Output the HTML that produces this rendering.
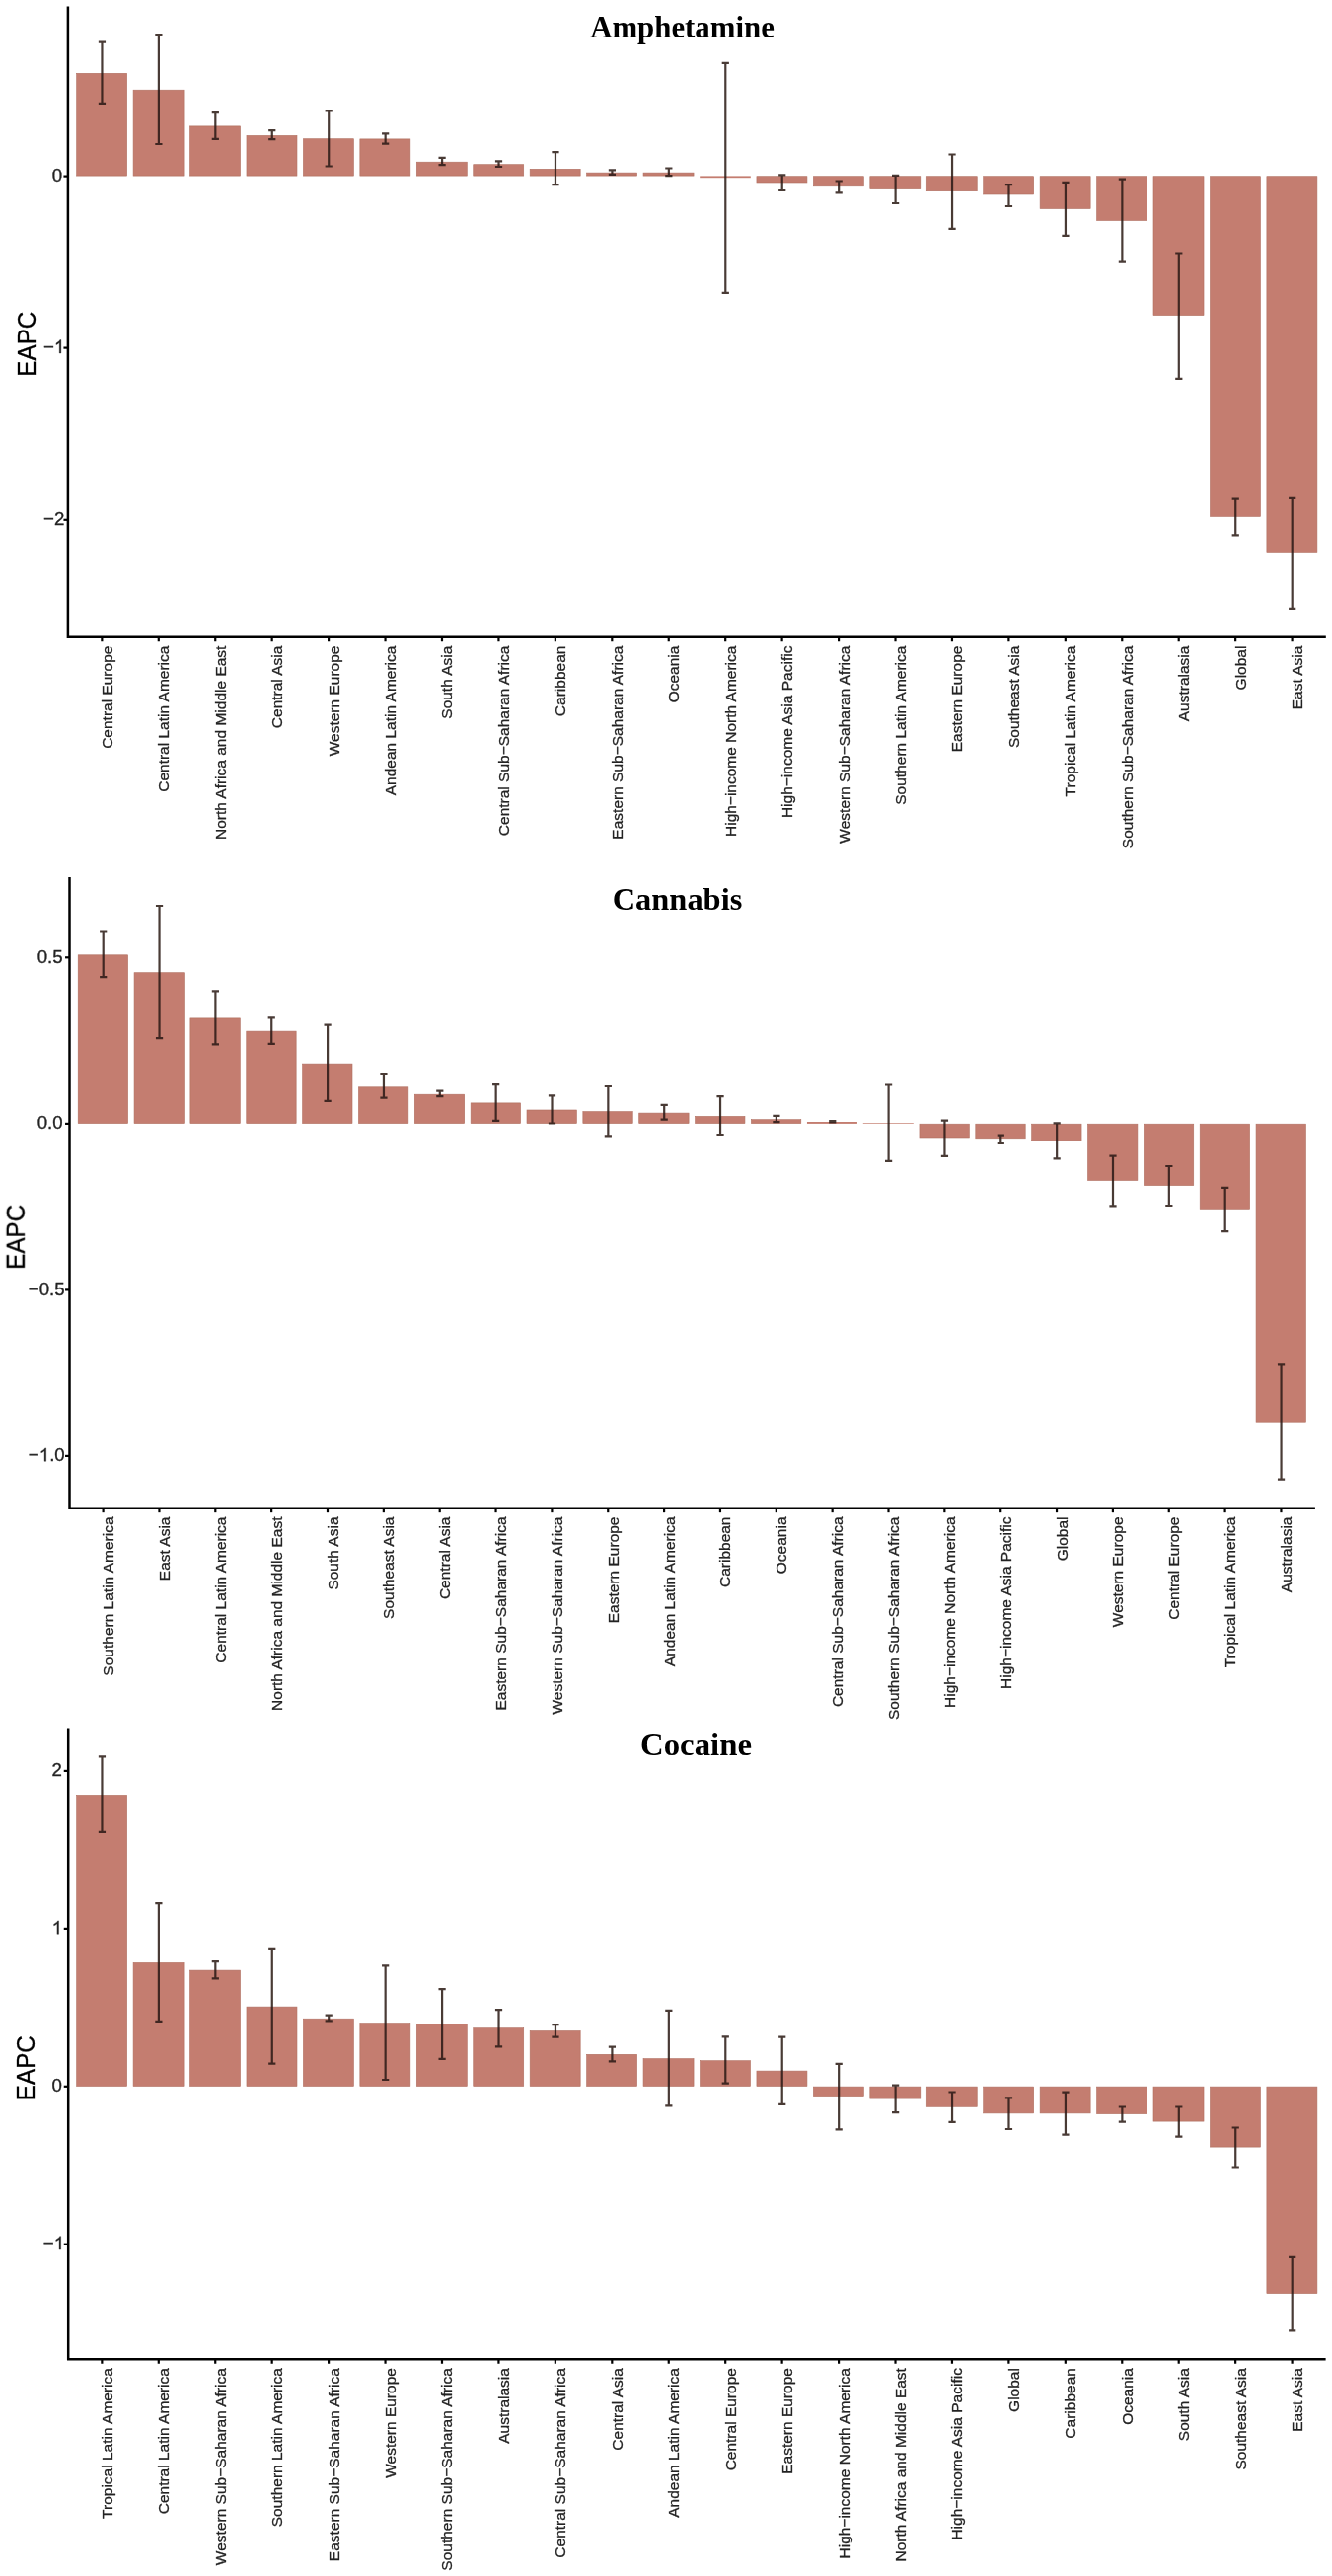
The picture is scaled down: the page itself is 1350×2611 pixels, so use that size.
<!DOCTYPE html>
<html><head><meta charset="utf-8"><title>EAPC</title>
<style>
html,body{margin:0;padding:0;background:#fff}
body{width:1350px;height:2611px;overflow:hidden}
svg{display:block}
text{font-family:"Liberation Sans",sans-serif}
.ti{font-family:"Liberation Serif",serif;font-weight:bold;font-size:32px;fill:#000}
.xl{font-size:15.5px;fill:#242424;stroke:#242424;stroke-width:.3px}
.yt{font-size:18.67px;fill:#242424;stroke:#242424;stroke-width:.35px}
.at{font-size:26.67px;fill:#000;stroke:#000;stroke-width:.3px}
</style></head>
<body>
<svg width="1350" height="2611" viewBox="0 0 1350 2611">
<defs><filter id="soft" x="0" y="0" width="1350" height="2611" filterUnits="userSpaceOnUse"><feGaussianBlur stdDeviation="0.5"/></filter></defs>
<rect width="1350" height="2611" fill="#fff"/>
<g filter="url(#soft)">
<rect width="1350" height="2611" fill="#fff"/>
<g>
<rect x="77.65" y="74.30" width="51.00" height="103.80" fill="#c47d6f" stroke="#b06f61" stroke-width="0.6"/>
<rect x="135.09" y="91.20" width="51.00" height="86.90" fill="#c47d6f" stroke="#b06f61" stroke-width="0.6"/>
<rect x="192.53" y="127.90" width="51.00" height="50.20" fill="#c47d6f" stroke="#b06f61" stroke-width="0.6"/>
<rect x="249.97" y="137.40" width="51.00" height="40.70" fill="#c47d6f" stroke="#b06f61" stroke-width="0.6"/>
<rect x="307.41" y="140.70" width="51.00" height="37.40" fill="#c47d6f" stroke="#b06f61" stroke-width="0.6"/>
<rect x="364.85" y="140.90" width="51.00" height="37.20" fill="#c47d6f" stroke="#b06f61" stroke-width="0.6"/>
<rect x="422.29" y="164.20" width="51.00" height="13.90" fill="#c47d6f" stroke="#b06f61" stroke-width="0.6"/>
<rect x="479.73" y="166.70" width="51.00" height="11.40" fill="#c47d6f" stroke="#b06f61" stroke-width="0.6"/>
<rect x="537.17" y="171.30" width="51.00" height="6.80" fill="#c47d6f" stroke="#b06f61" stroke-width="0.6"/>
<rect x="594.61" y="175.10" width="51.00" height="3.00" fill="#c47d6f" stroke="#b06f61" stroke-width="0.6"/>
<rect x="652.05" y="175.10" width="51.00" height="3.00" fill="#c47d6f" stroke="#b06f61" stroke-width="0.6"/>
<rect x="709.19" y="178.40" width="51.60" height="1.80" fill="#c47d6f"/>
<rect x="766.93" y="178.70" width="51.00" height="6.30" fill="#c47d6f" stroke="#b06f61" stroke-width="0.6"/>
<rect x="824.37" y="178.70" width="51.00" height="10.10" fill="#c47d6f" stroke="#b06f61" stroke-width="0.6"/>
<rect x="881.81" y="178.70" width="51.00" height="12.90" fill="#c47d6f" stroke="#b06f61" stroke-width="0.6"/>
<rect x="939.25" y="178.70" width="51.00" height="15.00" fill="#c47d6f" stroke="#b06f61" stroke-width="0.6"/>
<rect x="996.69" y="178.70" width="51.00" height="18.30" fill="#c47d6f" stroke="#b06f61" stroke-width="0.6"/>
<rect x="1054.13" y="178.70" width="51.00" height="32.80" fill="#c47d6f" stroke="#b06f61" stroke-width="0.6"/>
<rect x="1111.57" y="178.70" width="51.00" height="44.80" fill="#c47d6f" stroke="#b06f61" stroke-width="0.6"/>
<rect x="1169.01" y="178.70" width="51.00" height="140.90" fill="#c47d6f" stroke="#b06f61" stroke-width="0.6"/>
<rect x="1226.45" y="178.70" width="51.00" height="344.70" fill="#c47d6f" stroke="#b06f61" stroke-width="0.6"/>
<rect x="1283.89" y="178.70" width="51.00" height="381.70" fill="#c47d6f" stroke="#b06f61" stroke-width="0.6"/>
<path d="M103.45 42.60V104.90M99.85 42.60H107.05M99.85 104.90H107.05" stroke="#2a1a15" stroke-opacity="0.86" stroke-width="2.2" fill="none"/>
<path d="M160.89 35.00V146.00M157.29 35.00H164.49M157.29 146.00H164.49" stroke="#2a1a15" stroke-opacity="0.86" stroke-width="2.2" fill="none"/>
<path d="M218.33 114.10V140.90M214.73 114.10H221.93M214.73 140.90H221.93" stroke="#2a1a15" stroke-opacity="0.86" stroke-width="2.2" fill="none"/>
<path d="M275.77 132.20V141.10M272.17 132.20H279.37M272.17 141.10H279.37" stroke="#2a1a15" stroke-opacity="0.86" stroke-width="2.2" fill="none"/>
<path d="M333.21 112.30V168.50M329.61 112.30H336.81M329.61 168.50H336.81" stroke="#2a1a15" stroke-opacity="0.86" stroke-width="2.2" fill="none"/>
<path d="M390.65 135.30V145.70M387.05 135.30H394.25M387.05 145.70H394.25" stroke="#2a1a15" stroke-opacity="0.86" stroke-width="2.2" fill="none"/>
<path d="M448.09 159.80V167.20M444.49 159.80H451.69M444.49 167.20H451.69" stroke="#2a1a15" stroke-opacity="0.86" stroke-width="2.2" fill="none"/>
<path d="M505.53 163.30V169.00M501.93 163.30H509.13M501.93 169.00H509.13" stroke="#2a1a15" stroke-opacity="0.86" stroke-width="2.2" fill="none"/>
<path d="M562.97 154.20V187.10M559.37 154.20H566.57M559.37 187.10H566.57" stroke="#2a1a15" stroke-opacity="0.86" stroke-width="2.2" fill="none"/>
<path d="M620.41 172.30V176.90M616.81 172.30H624.01M616.81 176.90H624.01" stroke="#2a1a15" stroke-opacity="0.86" stroke-width="2.2" fill="none"/>
<path d="M677.85 170.50V178.20M674.25 170.50H681.45M674.25 178.20H681.45" stroke="#2a1a15" stroke-opacity="0.86" stroke-width="2.2" fill="none"/>
<path d="M735.29 63.80V296.80M731.69 63.80H738.89M731.69 296.80H738.89" stroke="#2a1a15" stroke-opacity="0.86" stroke-width="2.2" fill="none"/>
<path d="M792.73 177.40V193.00M789.13 177.40H796.33M789.13 193.00H796.33" stroke="#2a1a15" stroke-opacity="0.86" stroke-width="2.2" fill="none"/>
<path d="M850.17 183.50V195.30M846.57 183.50H853.77M846.57 195.30H853.77" stroke="#2a1a15" stroke-opacity="0.86" stroke-width="2.2" fill="none"/>
<path d="M907.61 177.90V206.00M904.01 177.90H911.21M904.01 206.00H911.21" stroke="#2a1a15" stroke-opacity="0.86" stroke-width="2.2" fill="none"/>
<path d="M965.05 156.50V231.80M961.45 156.50H968.65M961.45 231.80H968.65" stroke="#2a1a15" stroke-opacity="0.86" stroke-width="2.2" fill="none"/>
<path d="M1022.49 187.10V209.00M1018.89 187.10H1026.09M1018.89 209.00H1026.09" stroke="#2a1a15" stroke-opacity="0.86" stroke-width="2.2" fill="none"/>
<path d="M1079.93 184.80V238.90M1076.33 184.80H1083.53M1076.33 238.90H1083.53" stroke="#2a1a15" stroke-opacity="0.86" stroke-width="2.2" fill="none"/>
<path d="M1137.37 181.70V265.70M1133.77 181.70H1140.97M1133.77 265.70H1140.97" stroke="#2a1a15" stroke-opacity="0.86" stroke-width="2.2" fill="none"/>
<path d="M1194.81 256.50V383.80M1191.21 256.50H1198.41M1191.21 383.80H1198.41" stroke="#2a1a15" stroke-opacity="0.86" stroke-width="2.2" fill="none"/>
<path d="M1252.25 505.60V542.30M1248.65 505.60H1255.85M1248.65 542.30H1255.85" stroke="#2a1a15" stroke-opacity="0.86" stroke-width="2.2" fill="none"/>
<path d="M1309.69 504.80V616.80M1306.09 504.80H1313.29M1306.09 616.80H1313.29" stroke="#2a1a15" stroke-opacity="0.86" stroke-width="2.2" fill="none"/>
<path d="M68.90 6.40V645.80H1343.80" stroke="#000" stroke-width="2.5" fill="none" stroke-linejoin="miter"/>
<path d="M64.45 178.60H68.90" stroke="#000" stroke-width="2.2"/>
<text class="yt" x="63.20" y="184.00" text-anchor="end">0</text>
<path d="M64.45 352.60H68.90" stroke="#000" stroke-width="2.2"/>
<text class="yt" x="44.02" y="358.00">−</text>
<path d="M763 0H583V1147Q518 1085 412.5 1023Q307 961 223 930V1104Q374 1175 487 1276Q600 1377 647 1472H763Z" transform="translate(54.92 358.00) scale(0.00912 -0.00912)" fill="#242424" stroke="#242424" stroke-width="38"/>
<path d="M64.45 526.80H68.90" stroke="#000" stroke-width="2.2"/>
<text class="yt" x="65.30" y="532.20" text-anchor="end">−2</text>
<path d="M103.35 645.80V650.25" stroke="#000" stroke-width="2.2"/>
<text class="xl" transform="translate(113.85 654.60) rotate(-90)" text-anchor="end">Central Europe</text>
<path d="M160.79 645.80V650.25" stroke="#000" stroke-width="2.2"/>
<text class="xl" transform="translate(171.29 654.60) rotate(-90)" text-anchor="end">Central Latin America</text>
<path d="M218.23 645.80V650.25" stroke="#000" stroke-width="2.2"/>
<text class="xl" transform="translate(228.73 654.60) rotate(-90)" text-anchor="end">North Africa and Middle East</text>
<path d="M275.67 645.80V650.25" stroke="#000" stroke-width="2.2"/>
<text class="xl" transform="translate(286.17 654.60) rotate(-90)" text-anchor="end">Central Asia</text>
<path d="M333.11 645.80V650.25" stroke="#000" stroke-width="2.2"/>
<text class="xl" transform="translate(343.61 654.60) rotate(-90)" text-anchor="end">Western Europe</text>
<path d="M390.55 645.80V650.25" stroke="#000" stroke-width="2.2"/>
<text class="xl" transform="translate(401.05 654.60) rotate(-90)" text-anchor="end">Andean Latin America</text>
<path d="M447.99 645.80V650.25" stroke="#000" stroke-width="2.2"/>
<text class="xl" transform="translate(458.49 654.60) rotate(-90)" text-anchor="end">South Asia</text>
<path d="M505.43 645.80V650.25" stroke="#000" stroke-width="2.2"/>
<text class="xl" transform="translate(515.93 654.60) rotate(-90)" text-anchor="end">Central Sub−Saharan Africa</text>
<path d="M562.87 645.80V650.25" stroke="#000" stroke-width="2.2"/>
<text class="xl" transform="translate(573.37 654.60) rotate(-90)" text-anchor="end">Caribbean</text>
<path d="M620.31 645.80V650.25" stroke="#000" stroke-width="2.2"/>
<text class="xl" transform="translate(630.81 654.60) rotate(-90)" text-anchor="end">Eastern Sub−Saharan Africa</text>
<path d="M677.75 645.80V650.25" stroke="#000" stroke-width="2.2"/>
<text class="xl" transform="translate(688.25 654.60) rotate(-90)" text-anchor="end">Oceania</text>
<path d="M735.19 645.80V650.25" stroke="#000" stroke-width="2.2"/>
<text class="xl" transform="translate(745.69 654.60) rotate(-90)" text-anchor="end">High−income North America</text>
<path d="M792.63 645.80V650.25" stroke="#000" stroke-width="2.2"/>
<text class="xl" transform="translate(803.13 654.60) rotate(-90)" text-anchor="end">High−income Asia Pacific</text>
<path d="M850.07 645.80V650.25" stroke="#000" stroke-width="2.2"/>
<text class="xl" transform="translate(860.57 654.60) rotate(-90)" text-anchor="end">Western Sub−Saharan Africa</text>
<path d="M907.51 645.80V650.25" stroke="#000" stroke-width="2.2"/>
<text class="xl" transform="translate(918.01 654.60) rotate(-90)" text-anchor="end">Southern Latin America</text>
<path d="M964.95 645.80V650.25" stroke="#000" stroke-width="2.2"/>
<text class="xl" transform="translate(975.45 654.60) rotate(-90)" text-anchor="end">Eastern Europe</text>
<path d="M1022.39 645.80V650.25" stroke="#000" stroke-width="2.2"/>
<text class="xl" transform="translate(1032.89 654.60) rotate(-90)" text-anchor="end">Southeast Asia</text>
<path d="M1079.83 645.80V650.25" stroke="#000" stroke-width="2.2"/>
<text class="xl" transform="translate(1090.33 654.60) rotate(-90)" text-anchor="end">Tropical Latin America</text>
<path d="M1137.27 645.80V650.25" stroke="#000" stroke-width="2.2"/>
<text class="xl" transform="translate(1147.77 654.60) rotate(-90)" text-anchor="end">Southern Sub−Saharan Africa</text>
<path d="M1194.71 645.80V650.25" stroke="#000" stroke-width="2.2"/>
<text class="xl" transform="translate(1205.21 654.60) rotate(-90)" text-anchor="end">Australasia</text>
<path d="M1252.15 645.80V650.25" stroke="#000" stroke-width="2.2"/>
<text class="xl" transform="translate(1262.65 654.60) rotate(-90)" text-anchor="end">Global</text>
<path d="M1309.59 645.80V650.25" stroke="#000" stroke-width="2.2"/>
<text class="xl" transform="translate(1320.09 654.60) rotate(-90)" text-anchor="end">East Asia</text>
<text class="at" transform="translate(35.80 348.70) rotate(-90)" text-anchor="middle" textLength="65.9" lengthAdjust="spacingAndGlyphs">EAPC</text>
<text class="ti" x="691.50" y="37.70" text-anchor="middle" textLength="186.7" lengthAdjust="spacingAndGlyphs">Amphetamine</text>
</g>
<g>
<rect x="79.20" y="967.80" width="50.40" height="170.80" fill="#c47d6f" stroke="#b06f61" stroke-width="0.6"/>
<rect x="136.05" y="985.70" width="50.40" height="152.90" fill="#c47d6f" stroke="#b06f61" stroke-width="0.6"/>
<rect x="192.90" y="1031.90" width="50.40" height="106.70" fill="#c47d6f" stroke="#b06f61" stroke-width="0.6"/>
<rect x="249.75" y="1045.10" width="50.40" height="93.50" fill="#c47d6f" stroke="#b06f61" stroke-width="0.6"/>
<rect x="306.60" y="1078.10" width="50.40" height="60.50" fill="#c47d6f" stroke="#b06f61" stroke-width="0.6"/>
<rect x="363.45" y="1101.80" width="50.40" height="36.80" fill="#c47d6f" stroke="#b06f61" stroke-width="0.6"/>
<rect x="420.30" y="1109.20" width="50.40" height="29.40" fill="#c47d6f" stroke="#b06f61" stroke-width="0.6"/>
<rect x="477.15" y="1117.90" width="50.40" height="20.70" fill="#c47d6f" stroke="#b06f61" stroke-width="0.6"/>
<rect x="534.00" y="1125.00" width="50.40" height="13.60" fill="#c47d6f" stroke="#b06f61" stroke-width="0.6"/>
<rect x="590.85" y="1126.60" width="50.40" height="12.00" fill="#c47d6f" stroke="#b06f61" stroke-width="0.6"/>
<rect x="647.70" y="1128.10" width="50.40" height="10.50" fill="#c47d6f" stroke="#b06f61" stroke-width="0.6"/>
<rect x="704.55" y="1131.40" width="50.40" height="7.20" fill="#c47d6f" stroke="#b06f61" stroke-width="0.6"/>
<rect x="761.40" y="1134.70" width="50.40" height="3.90" fill="#c47d6f" stroke="#b06f61" stroke-width="0.6"/>
<rect x="817.95" y="1137.00" width="51.00" height="1.90" fill="#c47d6f"/>
<rect x="874.80" y="1138.20" width="51.00" height="0.70" fill="#c47d6f"/>
<rect x="931.95" y="1139.20" width="50.40" height="13.80" fill="#c47d6f" stroke="#b06f61" stroke-width="0.6"/>
<rect x="988.80" y="1139.20" width="50.40" height="14.60" fill="#c47d6f" stroke="#b06f61" stroke-width="0.6"/>
<rect x="1045.65" y="1139.20" width="50.40" height="16.70" fill="#c47d6f" stroke="#b06f61" stroke-width="0.6"/>
<rect x="1102.50" y="1139.20" width="50.40" height="57.30" fill="#c47d6f" stroke="#b06f61" stroke-width="0.6"/>
<rect x="1159.35" y="1139.20" width="50.40" height="62.40" fill="#c47d6f" stroke="#b06f61" stroke-width="0.6"/>
<rect x="1216.20" y="1139.20" width="50.40" height="86.10" fill="#c47d6f" stroke="#b06f61" stroke-width="0.6"/>
<rect x="1273.05" y="1139.20" width="50.40" height="302.00" fill="#c47d6f" stroke="#b06f61" stroke-width="0.6"/>
<path d="M104.70 944.50V990.20M101.10 944.50H108.30M101.10 990.20H108.30" stroke="#2a1a15" stroke-opacity="0.86" stroke-width="2.2" fill="none"/>
<path d="M161.55 918.00V1052.20M157.95 918.00H165.15M157.95 1052.20H165.15" stroke="#2a1a15" stroke-opacity="0.86" stroke-width="2.2" fill="none"/>
<path d="M218.40 1004.30V1058.40M214.80 1004.30H222.00M214.80 1058.40H222.00" stroke="#2a1a15" stroke-opacity="0.86" stroke-width="2.2" fill="none"/>
<path d="M275.25 1031.30V1057.90M271.65 1031.30H278.85M271.65 1057.90H278.85" stroke="#2a1a15" stroke-opacity="0.86" stroke-width="2.2" fill="none"/>
<path d="M332.10 1038.70V1115.80M328.50 1038.70H335.70M328.50 1115.80H335.70" stroke="#2a1a15" stroke-opacity="0.86" stroke-width="2.2" fill="none"/>
<path d="M388.95 1089.00V1112.70M385.35 1089.00H392.55M385.35 1112.70H392.55" stroke="#2a1a15" stroke-opacity="0.86" stroke-width="2.2" fill="none"/>
<path d="M445.80 1105.60V1111.20M442.20 1105.60H449.40M442.20 1111.20H449.40" stroke="#2a1a15" stroke-opacity="0.86" stroke-width="2.2" fill="none"/>
<path d="M502.65 1099.20V1135.90M499.05 1099.20H506.25M499.05 1135.90H506.25" stroke="#2a1a15" stroke-opacity="0.86" stroke-width="2.2" fill="none"/>
<path d="M559.50 1110.40V1138.50M555.90 1110.40H563.10M555.90 1138.50H563.10" stroke="#2a1a15" stroke-opacity="0.86" stroke-width="2.2" fill="none"/>
<path d="M616.35 1101.00V1151.30M612.75 1101.00H619.95M612.75 1151.30H619.95" stroke="#2a1a15" stroke-opacity="0.86" stroke-width="2.2" fill="none"/>
<path d="M673.20 1119.90V1134.70M669.60 1119.90H676.80M669.60 1134.70H676.80" stroke="#2a1a15" stroke-opacity="0.86" stroke-width="2.2" fill="none"/>
<path d="M730.05 1111.20V1150.00M726.45 1111.20H733.65M726.45 1150.00H733.65" stroke="#2a1a15" stroke-opacity="0.86" stroke-width="2.2" fill="none"/>
<path d="M786.90 1130.80V1137.20M783.30 1130.80H790.50M783.30 1137.20H790.50" stroke="#2a1a15" stroke-opacity="0.86" stroke-width="2.2" fill="none"/>
<path d="M843.75 1136.00V1137.50M840.15 1136.00H847.35M840.15 1137.50H847.35" stroke="#2a1a15" stroke-opacity="0.86" stroke-width="2.2" fill="none"/>
<path d="M900.60 1099.50V1176.80M897.00 1099.50H904.20M897.00 1176.80H904.20" stroke="#2a1a15" stroke-opacity="0.86" stroke-width="2.2" fill="none"/>
<path d="M957.45 1135.70V1171.90M953.85 1135.70H961.05M953.85 1171.90H961.05" stroke="#2a1a15" stroke-opacity="0.86" stroke-width="2.2" fill="none"/>
<path d="M1014.30 1150.60V1159.00M1010.70 1150.60H1017.90M1010.70 1159.00H1017.90" stroke="#2a1a15" stroke-opacity="0.86" stroke-width="2.2" fill="none"/>
<path d="M1071.15 1138.30V1174.30M1067.55 1138.30H1074.75M1067.55 1174.30H1074.75" stroke="#2a1a15" stroke-opacity="0.86" stroke-width="2.2" fill="none"/>
<path d="M1128.00 1171.70V1222.30M1124.40 1171.70H1131.60M1124.40 1222.30H1131.60" stroke="#2a1a15" stroke-opacity="0.86" stroke-width="2.2" fill="none"/>
<path d="M1184.85 1182.00V1222.00M1181.25 1182.00H1188.45M1181.25 1222.00H1188.45" stroke="#2a1a15" stroke-opacity="0.86" stroke-width="2.2" fill="none"/>
<path d="M1241.70 1203.90V1248.10M1238.10 1203.90H1245.30M1238.10 1248.10H1245.30" stroke="#2a1a15" stroke-opacity="0.86" stroke-width="2.2" fill="none"/>
<path d="M1298.55 1383.30V1499.70M1294.95 1383.30H1302.15M1294.95 1499.70H1302.15" stroke="#2a1a15" stroke-opacity="0.86" stroke-width="2.2" fill="none"/>
<path d="M70.50 889.10V1528.70H1332.90" stroke="#000" stroke-width="2.5" fill="none" stroke-linejoin="miter"/>
<path d="M66.05 970.30H70.50" stroke="#000" stroke-width="2.2"/>
<text class="yt" x="63.60" y="975.70" text-anchor="end">0.5</text>
<path d="M66.05 1138.90H70.50" stroke="#000" stroke-width="2.2"/>
<text class="yt" x="63.60" y="1144.30" text-anchor="end">0.0</text>
<path d="M66.05 1307.40H70.50" stroke="#000" stroke-width="2.2"/>
<text class="yt" x="65.70" y="1312.80" text-anchor="end">−0.5</text>
<path d="M66.05 1475.90H70.50" stroke="#000" stroke-width="2.2"/>
<text class="yt" x="28.85" y="1481.30">−</text>
<path d="M763 0H583V1147Q518 1085 412.5 1023Q307 961 223 930V1104Q374 1175 487 1276Q600 1377 647 1472H763Z" transform="translate(39.75 1481.30) scale(0.00912 -0.00912)" fill="#242424" stroke="#242424" stroke-width="38"/>
<text class="yt" x="50.13" y="1481.30">.0</text>
<path d="M104.60 1528.70V1533.15" stroke="#000" stroke-width="2.2"/>
<text class="xl" transform="translate(115.10 1537.50) rotate(-90)" text-anchor="end">Southern Latin America</text>
<path d="M161.45 1528.70V1533.15" stroke="#000" stroke-width="2.2"/>
<text class="xl" transform="translate(171.95 1537.50) rotate(-90)" text-anchor="end">East Asia</text>
<path d="M218.30 1528.70V1533.15" stroke="#000" stroke-width="2.2"/>
<text class="xl" transform="translate(228.80 1537.50) rotate(-90)" text-anchor="end">Central Latin America</text>
<path d="M275.15 1528.70V1533.15" stroke="#000" stroke-width="2.2"/>
<text class="xl" transform="translate(285.65 1537.50) rotate(-90)" text-anchor="end">North Africa and Middle East</text>
<path d="M332.00 1528.70V1533.15" stroke="#000" stroke-width="2.2"/>
<text class="xl" transform="translate(342.50 1537.50) rotate(-90)" text-anchor="end">South Asia</text>
<path d="M388.85 1528.70V1533.15" stroke="#000" stroke-width="2.2"/>
<text class="xl" transform="translate(399.35 1537.50) rotate(-90)" text-anchor="end">Southeast Asia</text>
<path d="M445.70 1528.70V1533.15" stroke="#000" stroke-width="2.2"/>
<text class="xl" transform="translate(456.20 1537.50) rotate(-90)" text-anchor="end">Central Asia</text>
<path d="M502.55 1528.70V1533.15" stroke="#000" stroke-width="2.2"/>
<text class="xl" transform="translate(513.05 1537.50) rotate(-90)" text-anchor="end">Eastern Sub−Saharan Africa</text>
<path d="M559.40 1528.70V1533.15" stroke="#000" stroke-width="2.2"/>
<text class="xl" transform="translate(569.90 1537.50) rotate(-90)" text-anchor="end">Western Sub−Saharan Africa</text>
<path d="M616.25 1528.70V1533.15" stroke="#000" stroke-width="2.2"/>
<text class="xl" transform="translate(626.75 1537.50) rotate(-90)" text-anchor="end">Eastern Europe</text>
<path d="M673.10 1528.70V1533.15" stroke="#000" stroke-width="2.2"/>
<text class="xl" transform="translate(683.60 1537.50) rotate(-90)" text-anchor="end">Andean Latin America</text>
<path d="M729.95 1528.70V1533.15" stroke="#000" stroke-width="2.2"/>
<text class="xl" transform="translate(740.45 1537.50) rotate(-90)" text-anchor="end">Caribbean</text>
<path d="M786.80 1528.70V1533.15" stroke="#000" stroke-width="2.2"/>
<text class="xl" transform="translate(797.30 1537.50) rotate(-90)" text-anchor="end">Oceania</text>
<path d="M843.65 1528.70V1533.15" stroke="#000" stroke-width="2.2"/>
<text class="xl" transform="translate(854.15 1537.50) rotate(-90)" text-anchor="end">Central Sub−Saharan Africa</text>
<path d="M900.50 1528.70V1533.15" stroke="#000" stroke-width="2.2"/>
<text class="xl" transform="translate(911.00 1537.50) rotate(-90)" text-anchor="end">Southern Sub−Saharan Africa</text>
<path d="M957.35 1528.70V1533.15" stroke="#000" stroke-width="2.2"/>
<text class="xl" transform="translate(967.85 1537.50) rotate(-90)" text-anchor="end">High−income North America</text>
<path d="M1014.20 1528.70V1533.15" stroke="#000" stroke-width="2.2"/>
<text class="xl" transform="translate(1024.70 1537.50) rotate(-90)" text-anchor="end">High−income Asia Pacific</text>
<path d="M1071.05 1528.70V1533.15" stroke="#000" stroke-width="2.2"/>
<text class="xl" transform="translate(1081.55 1537.50) rotate(-90)" text-anchor="end">Global</text>
<path d="M1127.90 1528.70V1533.15" stroke="#000" stroke-width="2.2"/>
<text class="xl" transform="translate(1138.40 1537.50) rotate(-90)" text-anchor="end">Western Europe</text>
<path d="M1184.75 1528.70V1533.15" stroke="#000" stroke-width="2.2"/>
<text class="xl" transform="translate(1195.25 1537.50) rotate(-90)" text-anchor="end">Central Europe</text>
<path d="M1241.60 1528.70V1533.15" stroke="#000" stroke-width="2.2"/>
<text class="xl" transform="translate(1252.10 1537.50) rotate(-90)" text-anchor="end">Tropical Latin America</text>
<path d="M1298.45 1528.70V1533.15" stroke="#000" stroke-width="2.2"/>
<text class="xl" transform="translate(1308.95 1537.50) rotate(-90)" text-anchor="end">Australasia</text>
<text class="at" transform="translate(24.80 1253.80) rotate(-90)" text-anchor="middle" textLength="65.9" lengthAdjust="spacingAndGlyphs">EAPC</text>
<text class="ti" x="686.50" y="921.80" text-anchor="middle" textLength="131.6" lengthAdjust="spacingAndGlyphs">Cannabis</text>
</g>
<g>
<rect x="77.65" y="1819.40" width="51.00" height="295.10" fill="#c47d6f" stroke="#b06f61" stroke-width="0.6"/>
<rect x="135.09" y="1989.40" width="51.00" height="125.10" fill="#c47d6f" stroke="#b06f61" stroke-width="0.6"/>
<rect x="192.53" y="1997.10" width="51.00" height="117.40" fill="#c47d6f" stroke="#b06f61" stroke-width="0.6"/>
<rect x="249.97" y="2034.10" width="51.00" height="80.40" fill="#c47d6f" stroke="#b06f61" stroke-width="0.6"/>
<rect x="307.41" y="2046.20" width="51.00" height="68.30" fill="#c47d6f" stroke="#b06f61" stroke-width="0.6"/>
<rect x="364.85" y="2050.60" width="51.00" height="63.90" fill="#c47d6f" stroke="#b06f61" stroke-width="0.6"/>
<rect x="422.29" y="2051.70" width="51.00" height="62.80" fill="#c47d6f" stroke="#b06f61" stroke-width="0.6"/>
<rect x="479.73" y="2055.70" width="51.00" height="58.80" fill="#c47d6f" stroke="#b06f61" stroke-width="0.6"/>
<rect x="537.17" y="2058.50" width="51.00" height="56.00" fill="#c47d6f" stroke="#b06f61" stroke-width="0.6"/>
<rect x="594.61" y="2082.30" width="51.00" height="32.20" fill="#c47d6f" stroke="#b06f61" stroke-width="0.6"/>
<rect x="652.05" y="2086.60" width="51.00" height="27.90" fill="#c47d6f" stroke="#b06f61" stroke-width="0.6"/>
<rect x="709.49" y="2088.70" width="51.00" height="25.80" fill="#c47d6f" stroke="#b06f61" stroke-width="0.6"/>
<rect x="766.93" y="2099.10" width="51.00" height="15.40" fill="#c47d6f" stroke="#b06f61" stroke-width="0.6"/>
<rect x="824.37" y="2115.10" width="51.00" height="9.50" fill="#c47d6f" stroke="#b06f61" stroke-width="0.6"/>
<rect x="881.81" y="2115.10" width="51.00" height="12.00" fill="#c47d6f" stroke="#b06f61" stroke-width="0.6"/>
<rect x="939.25" y="2115.10" width="51.00" height="20.20" fill="#c47d6f" stroke="#b06f61" stroke-width="0.6"/>
<rect x="996.69" y="2115.10" width="51.00" height="26.80" fill="#c47d6f" stroke="#b06f61" stroke-width="0.6"/>
<rect x="1054.13" y="2115.10" width="51.00" height="26.80" fill="#c47d6f" stroke="#b06f61" stroke-width="0.6"/>
<rect x="1111.57" y="2115.10" width="51.00" height="27.50" fill="#c47d6f" stroke="#b06f61" stroke-width="0.6"/>
<rect x="1169.01" y="2115.10" width="51.00" height="35.00" fill="#c47d6f" stroke="#b06f61" stroke-width="0.6"/>
<rect x="1226.45" y="2115.10" width="51.00" height="61.00" fill="#c47d6f" stroke="#b06f61" stroke-width="0.6"/>
<rect x="1283.89" y="2115.10" width="51.00" height="209.50" fill="#c47d6f" stroke="#b06f61" stroke-width="0.6"/>
<path d="M103.45 1780.30V1856.90M99.85 1780.30H107.05M99.85 1856.90H107.05" stroke="#2a1a15" stroke-opacity="0.86" stroke-width="2.2" fill="none"/>
<path d="M160.89 1929.10V2048.80M157.29 1929.10H164.49M157.29 2048.80H164.49" stroke="#2a1a15" stroke-opacity="0.86" stroke-width="2.2" fill="none"/>
<path d="M218.33 1988.10V2005.40M214.73 1988.10H221.93M214.73 2005.40H221.93" stroke="#2a1a15" stroke-opacity="0.86" stroke-width="2.2" fill="none"/>
<path d="M275.77 1974.80V2091.60M272.17 1974.80H279.37M272.17 2091.60H279.37" stroke="#2a1a15" stroke-opacity="0.86" stroke-width="2.2" fill="none"/>
<path d="M333.21 2042.70V2048.30M329.61 2042.70H336.81M329.61 2048.30H336.81" stroke="#2a1a15" stroke-opacity="0.86" stroke-width="2.2" fill="none"/>
<path d="M390.65 1992.40V2108.00M387.05 1992.40H394.25M387.05 2108.00H394.25" stroke="#2a1a15" stroke-opacity="0.86" stroke-width="2.2" fill="none"/>
<path d="M448.09 2016.10V2086.80M444.49 2016.10H451.69M444.49 2086.80H451.69" stroke="#2a1a15" stroke-opacity="0.86" stroke-width="2.2" fill="none"/>
<path d="M505.53 2037.10V2074.30M501.93 2037.10H509.13M501.93 2074.30H509.13" stroke="#2a1a15" stroke-opacity="0.86" stroke-width="2.2" fill="none"/>
<path d="M562.97 2052.10V2064.60M559.37 2052.10H566.57M559.37 2064.60H566.57" stroke="#2a1a15" stroke-opacity="0.86" stroke-width="2.2" fill="none"/>
<path d="M620.41 2074.60V2089.40M616.81 2074.60H624.01M616.81 2089.40H624.01" stroke="#2a1a15" stroke-opacity="0.86" stroke-width="2.2" fill="none"/>
<path d="M677.85 2037.80V2134.30M674.25 2037.80H681.45M674.25 2134.30H681.45" stroke="#2a1a15" stroke-opacity="0.86" stroke-width="2.2" fill="none"/>
<path d="M735.29 2064.40V2111.60M731.69 2064.40H738.89M731.69 2111.60H738.89" stroke="#2a1a15" stroke-opacity="0.86" stroke-width="2.2" fill="none"/>
<path d="M792.73 2064.60V2132.80M789.13 2064.60H796.33M789.13 2132.80H796.33" stroke="#2a1a15" stroke-opacity="0.86" stroke-width="2.2" fill="none"/>
<path d="M850.17 2091.90V2158.30M846.57 2091.90H853.77M846.57 2158.30H853.77" stroke="#2a1a15" stroke-opacity="0.86" stroke-width="2.2" fill="none"/>
<path d="M907.61 2113.60V2141.20M904.01 2113.60H911.21M904.01 2141.20H911.21" stroke="#2a1a15" stroke-opacity="0.86" stroke-width="2.2" fill="none"/>
<path d="M965.05 2120.50V2150.90M961.45 2120.50H968.65M961.45 2150.90H968.65" stroke="#2a1a15" stroke-opacity="0.86" stroke-width="2.2" fill="none"/>
<path d="M1022.49 2126.40V2158.00M1018.89 2126.40H1026.09M1018.89 2158.00H1026.09" stroke="#2a1a15" stroke-opacity="0.86" stroke-width="2.2" fill="none"/>
<path d="M1079.93 2120.70V2163.60M1076.33 2120.70H1083.53M1076.33 2163.60H1083.53" stroke="#2a1a15" stroke-opacity="0.86" stroke-width="2.2" fill="none"/>
<path d="M1137.37 2135.50V2150.60M1133.77 2135.50H1140.97M1133.77 2150.60H1140.97" stroke="#2a1a15" stroke-opacity="0.86" stroke-width="2.2" fill="none"/>
<path d="M1194.81 2135.50V2165.70M1191.21 2135.50H1198.41M1191.21 2165.70H1198.41" stroke="#2a1a15" stroke-opacity="0.86" stroke-width="2.2" fill="none"/>
<path d="M1252.25 2156.50V2196.50M1248.65 2156.50H1255.85M1248.65 2196.50H1255.85" stroke="#2a1a15" stroke-opacity="0.86" stroke-width="2.2" fill="none"/>
<path d="M1309.69 2287.90V2362.40M1306.09 2287.90H1313.29M1306.09 2362.40H1313.29" stroke="#2a1a15" stroke-opacity="0.86" stroke-width="2.2" fill="none"/>
<path d="M69.20 1751.50V2391.30H1343.60" stroke="#000" stroke-width="2.5" fill="none" stroke-linejoin="miter"/>
<path d="M64.75 1794.90H69.20" stroke="#000" stroke-width="2.2"/>
<text class="yt" x="63.00" y="1800.30" text-anchor="end">2</text>
<path d="M64.75 1954.90H69.20" stroke="#000" stroke-width="2.2"/>
<path d="M763 0H583V1147Q518 1085 412.5 1023Q307 961 223 930V1104Q374 1175 487 1276Q600 1377 647 1472H763Z" transform="translate(52.62 1960.30) scale(0.00912 -0.00912)" fill="#242424" stroke="#242424" stroke-width="38"/>
<path d="M64.75 2114.80H69.20" stroke="#000" stroke-width="2.2"/>
<text class="yt" x="63.00" y="2120.20" text-anchor="end">0</text>
<path d="M64.75 2274.70H69.20" stroke="#000" stroke-width="2.2"/>
<text class="yt" x="43.82" y="2280.10">−</text>
<path d="M763 0H583V1147Q518 1085 412.5 1023Q307 961 223 930V1104Q374 1175 487 1276Q600 1377 647 1472H763Z" transform="translate(54.72 2280.10) scale(0.00912 -0.00912)" fill="#242424" stroke="#242424" stroke-width="38"/>
<path d="M103.35 2391.30V2395.75" stroke="#000" stroke-width="2.2"/>
<text class="xl" transform="translate(113.85 2400.10) rotate(-90)" text-anchor="end">Tropical Latin America</text>
<path d="M160.79 2391.30V2395.75" stroke="#000" stroke-width="2.2"/>
<text class="xl" transform="translate(171.29 2400.10) rotate(-90)" text-anchor="end">Central Latin America</text>
<path d="M218.23 2391.30V2395.75" stroke="#000" stroke-width="2.2"/>
<text class="xl" transform="translate(228.73 2400.10) rotate(-90)" text-anchor="end">Western Sub−Saharan Africa</text>
<path d="M275.67 2391.30V2395.75" stroke="#000" stroke-width="2.2"/>
<text class="xl" transform="translate(286.17 2400.10) rotate(-90)" text-anchor="end">Southern Latin America</text>
<path d="M333.11 2391.30V2395.75" stroke="#000" stroke-width="2.2"/>
<text class="xl" transform="translate(343.61 2400.10) rotate(-90)" text-anchor="end">Eastern Sub−Saharan Africa</text>
<path d="M390.55 2391.30V2395.75" stroke="#000" stroke-width="2.2"/>
<text class="xl" transform="translate(401.05 2400.10) rotate(-90)" text-anchor="end">Western Europe</text>
<path d="M447.99 2391.30V2395.75" stroke="#000" stroke-width="2.2"/>
<text class="xl" transform="translate(458.49 2400.10) rotate(-90)" text-anchor="end">Southern Sub−Saharan Africa</text>
<path d="M505.43 2391.30V2395.75" stroke="#000" stroke-width="2.2"/>
<text class="xl" transform="translate(515.93 2400.10) rotate(-90)" text-anchor="end">Australasia</text>
<path d="M562.87 2391.30V2395.75" stroke="#000" stroke-width="2.2"/>
<text class="xl" transform="translate(573.37 2400.10) rotate(-90)" text-anchor="end">Central Sub−Saharan Africa</text>
<path d="M620.31 2391.30V2395.75" stroke="#000" stroke-width="2.2"/>
<text class="xl" transform="translate(630.81 2400.10) rotate(-90)" text-anchor="end">Central Asia</text>
<path d="M677.75 2391.30V2395.75" stroke="#000" stroke-width="2.2"/>
<text class="xl" transform="translate(688.25 2400.10) rotate(-90)" text-anchor="end">Andean Latin America</text>
<path d="M735.19 2391.30V2395.75" stroke="#000" stroke-width="2.2"/>
<text class="xl" transform="translate(745.69 2400.10) rotate(-90)" text-anchor="end">Central Europe</text>
<path d="M792.63 2391.30V2395.75" stroke="#000" stroke-width="2.2"/>
<text class="xl" transform="translate(803.13 2400.10) rotate(-90)" text-anchor="end">Eastern Europe</text>
<path d="M850.07 2391.30V2395.75" stroke="#000" stroke-width="2.2"/>
<text class="xl" transform="translate(860.57 2400.10) rotate(-90)" text-anchor="end">High−income North America</text>
<path d="M907.51 2391.30V2395.75" stroke="#000" stroke-width="2.2"/>
<text class="xl" transform="translate(918.01 2400.10) rotate(-90)" text-anchor="end">North Africa and Middle East</text>
<path d="M964.95 2391.30V2395.75" stroke="#000" stroke-width="2.2"/>
<text class="xl" transform="translate(975.45 2400.10) rotate(-90)" text-anchor="end">High−income Asia Pacific</text>
<path d="M1022.39 2391.30V2395.75" stroke="#000" stroke-width="2.2"/>
<text class="xl" transform="translate(1032.89 2400.10) rotate(-90)" text-anchor="end">Global</text>
<path d="M1079.83 2391.30V2395.75" stroke="#000" stroke-width="2.2"/>
<text class="xl" transform="translate(1090.33 2400.10) rotate(-90)" text-anchor="end">Caribbean</text>
<path d="M1137.27 2391.30V2395.75" stroke="#000" stroke-width="2.2"/>
<text class="xl" transform="translate(1147.77 2400.10) rotate(-90)" text-anchor="end">Oceania</text>
<path d="M1194.71 2391.30V2395.75" stroke="#000" stroke-width="2.2"/>
<text class="xl" transform="translate(1205.21 2400.10) rotate(-90)" text-anchor="end">South Asia</text>
<path d="M1252.15 2391.30V2395.75" stroke="#000" stroke-width="2.2"/>
<text class="xl" transform="translate(1262.65 2400.10) rotate(-90)" text-anchor="end">Southeast Asia</text>
<path d="M1309.59 2391.30V2395.75" stroke="#000" stroke-width="2.2"/>
<text class="xl" transform="translate(1320.09 2400.10) rotate(-90)" text-anchor="end">East Asia</text>
<text class="at" transform="translate(35.00 2096.20) rotate(-90)" text-anchor="middle" textLength="65.9" lengthAdjust="spacingAndGlyphs">EAPC</text>
<text class="ti" x="705.50" y="1779.30" text-anchor="middle" textLength="112.9" lengthAdjust="spacingAndGlyphs">Cocaine</text>
</g>
</g>
</svg>
</body></html>
